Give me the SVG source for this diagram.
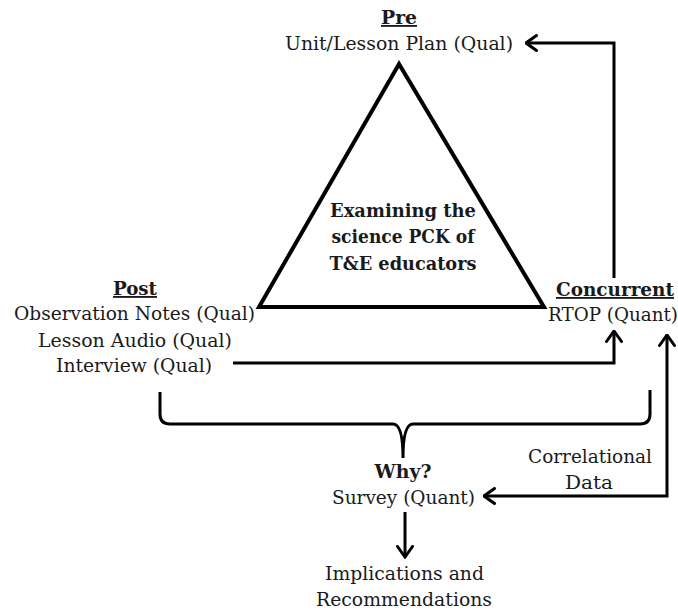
<svg xmlns="http://www.w3.org/2000/svg" width="678" height="613" viewBox="0 0 678 613">
  <defs>
    <marker id="chev" viewBox="0 0 14 18" refX="12.5" refY="9" markerWidth="14" markerHeight="18" markerUnits="userSpaceOnUse" orient="auto">
      <polyline points="2,1.5 12.5,9 2,16.5" fill="none" stroke="#000" stroke-width="3" stroke-linecap="round" stroke-linejoin="miter"/>
    </marker>
    <marker id="chev-start" viewBox="0 0 14 18" refX="1.5" refY="9" markerWidth="14" markerHeight="18" markerUnits="userSpaceOnUse" orient="auto">
      <polyline points="12,1.5 1.5,9 12,16.5" fill="none" stroke="#000" stroke-width="3" stroke-linecap="round" stroke-linejoin="miter"/>
    </marker>
  </defs>
  <style>
    text { font-family: "DejaVu Serif", "Liberation Serif", serif; font-size: 18.5px; fill: #1a1a1a; text-anchor: middle; }
    .b { font-weight: bold; font-size: 18.5px; }
    .u { text-decoration: underline; }
    .line { fill: none; stroke: #000; stroke-width: 3; }
  </style>
  <rect width="678" height="613" fill="#fff"/>

  <g id="core">
    <polygon points="399,64 259,307 544,307" fill="none" stroke="#000" stroke-width="4" stroke-linejoin="miter"/>
    <text class="b" x="403" y="217" textLength="146" lengthAdjust="spacingAndGlyphs">Examining the</text>
    <text class="b" x="403" y="243" textLength="143" lengthAdjust="spacingAndGlyphs">science PCK of</text>
    <text class="b" x="403" y="270" textLength="147" lengthAdjust="spacingAndGlyphs">T&amp;E educators</text>
  </g>

  <g id="pre">
    <text class="b u" x="399" y="24" textLength="36" lengthAdjust="spacingAndGlyphs">Pre</text>
    <text x="399" y="50" textLength="228" lengthAdjust="spacingAndGlyphs">Unit/Lesson Plan (Qual)</text>
  </g>

  <g id="post">
    <text class="b u" x="135" y="295" textLength="44" lengthAdjust="spacingAndGlyphs">Post</text>
    <text x="134.5" y="320" textLength="241" lengthAdjust="spacingAndGlyphs">Observation Notes (Qual)</text>
    <text x="135" y="347" textLength="194" lengthAdjust="spacingAndGlyphs">Lesson Audio (Qual)</text>
    <text x="134" y="372" textLength="156" lengthAdjust="spacingAndGlyphs">Interview (Qual)</text>
  </g>

  <g id="concurrent">
    <text class="b u" x="615" y="296" textLength="118" lengthAdjust="spacingAndGlyphs">Concurrent</text>
    <text x="613" y="321" textLength="130" lengthAdjust="spacingAndGlyphs">RTOP (Quant)</text>
  </g>

  <g id="why">
    <text class="b" x="403" y="478" textLength="57" lengthAdjust="spacingAndGlyphs">Why?</text>
    <text x="403.5" y="504" textLength="143" lengthAdjust="spacingAndGlyphs">Survey (Quant)</text>
  </g>

  <g id="outcome">
    <text x="404.5" y="580" textLength="159" lengthAdjust="spacingAndGlyphs">Implications and</text>
    <text x="404" y="606" textLength="176" lengthAdjust="spacingAndGlyphs">Recommendations</text>
  </g>

  <g id="connectors">
    <!-- post interview feeds the RTOP observation -->
    <path class="line" d="M233,363 H614 V331" marker-end="url(#chev)"/>
    <!-- concurrent loops back to the lesson plan -->
    <path class="line" d="M614,278 V43 H526" marker-end="url(#chev)"/>
    <!-- correlational link between RTOP and survey -->
    <path class="line" d="M667,335 V496 H484" marker-start="url(#chev-start)" marker-end="url(#chev)"/>
    <text x="590" y="463" textLength="124" lengthAdjust="spacingAndGlyphs">Correlational</text>
    <text x="589" y="489" textLength="48" lengthAdjust="spacingAndGlyphs">Data</text>
    <!-- brace gathering post and concurrent data -->
    <path class="line" d="M160,392 V414 Q160,424 170,424 H393 Q403,424 403,458 Q403,424 413,424 H640 Q650,424 650,414 V390"/>
    <!-- survey leads to implications -->
    <path class="line" d="M405,512 V557" marker-end="url(#chev)"/>
  </g>
</svg>
